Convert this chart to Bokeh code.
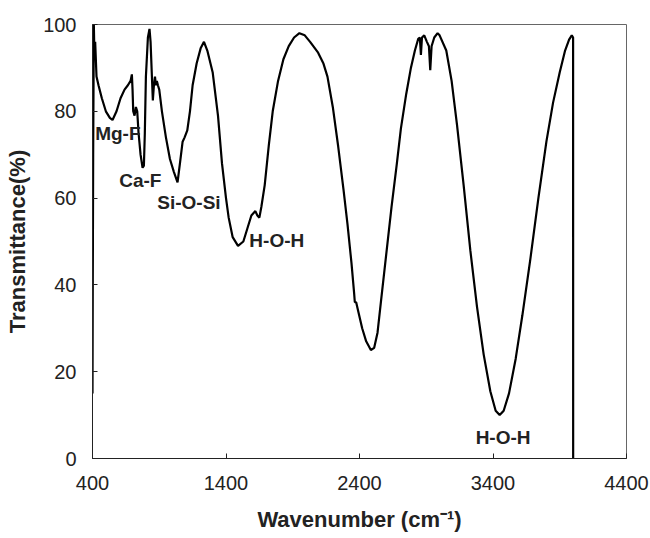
from bokeh.plotting import figure
from bokeh.models import Range1d, FixedTicker, Label
from bokeh.embed import file_html
from bokeh.resources import INLINE

# Wavenumber (cm-1) and transmittance (%)
wavenumber = [
    400, 402, 405, 410, 415, 420, 430, 445, 470, 500, 530, 550, 580, 610, 640,
    665, 685, 695, 700, 705, 715, 725, 735, 745, 760, 775, 785, 792, 800, 815,
    827, 835, 845, 852, 860, 868, 875, 882, 890, 900, 920, 950, 980, 1010, 1037,
    1055, 1075, 1090, 1110, 1130, 1150, 1180, 1210, 1235, 1260, 1300, 1340, 1370,
    1400, 1420, 1450, 1490, 1530, 1560, 1590, 1605, 1620, 1635, 1650, 1665, 1690,
    1720, 1750, 1790, 1830, 1870, 1910, 1950, 1990, 2030, 2090, 2130, 2160, 2200,
    2240, 2280, 2310, 2340, 2360, 2365, 2375, 2390, 2420, 2450, 2485, 2510, 2535,
    2560, 2600, 2640, 2680, 2710, 2750, 2785, 2815, 2840, 2852, 2860, 2868, 2885,
    2905, 2920, 2930, 2940, 2960, 2985, 3000, 3050, 3090, 3130, 3180, 3230, 3280,
    3330, 3380, 3420, 3450, 3480, 3520, 3570, 3620, 3680, 3740, 3800, 3850, 3900,
    3940, 3970, 3990, 4000, 4000.5,
]
transmittance = [
    15, 40, 70, 100, 92, 96, 88, 86, 83, 80, 78.5, 78, 80, 83, 85,
    86, 87, 88.5, 85, 80, 79, 81, 80, 75, 70, 67, 67.5, 75, 88, 97,
    99, 96, 88, 82.5, 86, 88, 86, 87, 86, 85, 80, 74, 69, 66, 63.6,
    68, 73, 74, 75.6, 80, 86, 91, 94.5, 96, 94, 89, 79, 68,
    60, 55.5, 51, 49, 50, 53, 56, 56.5, 57, 56, 55.5, 58, 63,
    72, 80, 87, 92, 95, 97, 98, 97.5, 96, 93.5, 91, 88, 81,
    72, 62, 54, 45, 38, 36, 36, 34, 30, 27, 25, 25.5, 29,
    36, 47, 58, 68, 76, 84, 90, 94, 96.7, 97, 93, 97, 97.5,
    96, 95, 89.5, 95, 97, 98, 97.5, 94, 87, 77, 63, 48, 35,
    24, 15.5, 11, 10, 11, 15, 23, 33, 46, 60, 73, 82, 89,
    94, 96.5, 97.5, 97, 0,
]

x_ticks = [400, 1400, 2400, 3400, 4400]
y_ticks = [0, 20, 40, 60, 80, 100]

band_labels = ["Mg-F", "Ca-F", "Si-O-Si", "H-O-H", "H-O-H"]
band_label_x = [420, 600, 885, 1575, 3270]
band_label_y = [74.9, 64, 59, 50.2, 4.8]

FONT = "Liberation Sans"

p = figure(width=650, height=538, output_backend="svg", toolbar_location=None,
           x_range=Range1d(400, 4400), y_range=Range1d(0, 100),
           min_border_left=92, min_border_right=24, min_border_top=24,
           min_border_bottom=80)
p.background_fill_color = "white"
p.border_fill_color = "white"
p.outline_line_color = "#666666"
p.outline_line_width = 1
p.xgrid.visible = False
p.ygrid.visible = False

p.line(wavenumber, transmittance, line_color="black", line_width=2.2)

for ax in (p.xaxis[0], p.yaxis[0]):
    ax.major_tick_in = 5
    ax.major_tick_out = 0
    ax.minor_tick_in = 0
    ax.minor_tick_out = 0
    ax.axis_line_color = "#222222"
    ax.major_tick_line_color = "#222222"
    ax.major_label_text_font = FONT
    ax.major_label_text_font_size = "20px"
    ax.major_label_text_color = "#222222"
    ax.axis_label_text_font = FONT
    ax.axis_label_text_font_size = "22px"
    ax.axis_label_text_font_style = "bold"
    ax.axis_label_text_color = "#222222"

p.xaxis.ticker = FixedTicker(ticks=x_ticks)
p.yaxis.ticker = FixedTicker(ticks=y_ticks)
p.xaxis.major_label_standoff = 17
p.yaxis.major_label_standoff = 16
p.xaxis.axis_label = "Wavenumber (cm\u207b\u00b9)"
p.yaxis.axis_label = "Transmittance(%)"
p.xaxis.axis_label_standoff = 14
p.yaxis.axis_label_standoff = 10

for txt, lx, ly in zip(band_labels, band_label_x, band_label_y):
    p.add_layout(Label(x=lx, y=ly, text=txt, text_font=FONT,
                       text_font_size="19px", text_font_style="bold",
                       text_color="#222222", text_align="left",
                       text_baseline="middle"))

open("out.html", "w").write(file_html(p, INLINE))
